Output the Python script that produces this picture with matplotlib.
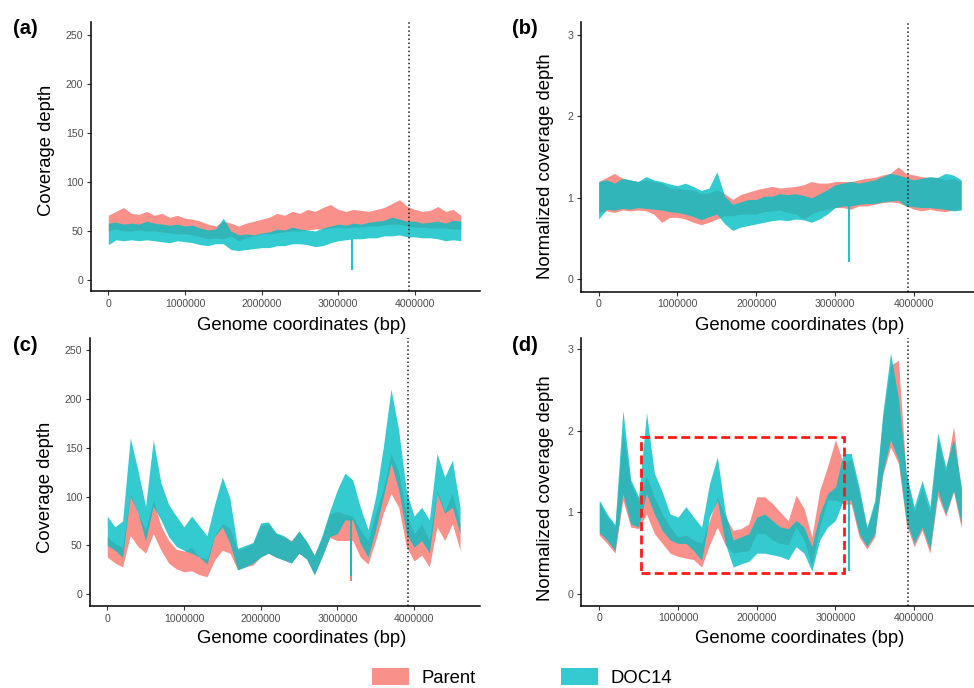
import numpy as np
import matplotlib

matplotlib.use("Agg")
import matplotlib.pyplot as plt
from matplotlib.patches import Patch, Rectangle

plt.rcParams["font.family"] = ["Liberation Sans", "DejaVu Sans"]

# 100 kb windows along the genome (window start, bp)
window_start = np.arange(47) * 100000
ori_pos = 3925000          # dotted reference line
dip_pos = 3175000          # single-window drop

PARENT = "#F8766D"
DOC14 = "#00BFC4"

# ---- (a) raw coverage, low/high envelope per window ----
a_parent_lo = [50, 52, 50, 50, 51, 50, 50, 49, 48, 47, 47, 46, 44, 42, 43, 42, 45, 40, 43, 45, 47, 47, 48, 49,
               50, 50, 51, 52, 52, 53, 54, 53, 54, 54, 55, 55, 56, 57, 57, 55, 54, 54, 53, 53, 53, 52, 52]
a_parent_hi = [66, 70, 74, 68, 67, 70, 66, 68, 64, 66, 63, 62, 60, 57, 55, 60, 58, 55, 58, 60, 62, 64, 68, 66,
               70, 68, 72, 70, 74, 77, 72, 70, 72, 71, 70, 72, 74, 78, 82, 75, 72, 70, 71, 75, 70, 72, 66]
a_doc_lo = [36, 41, 40, 41, 40, 41, 40, 39, 38, 40, 39, 38, 36, 35, 37, 37, 31, 30, 31, 32, 33, 33, 35, 35,
            37, 37, 36, 34, 35, 38, 40, 41, 42, 42, 43, 43, 45, 45, 46, 44, 44, 43, 43, 42, 40, 41, 40]
a_doc_hi = [58, 59, 57, 58, 57, 60, 58, 57, 56, 57, 55, 56, 53, 51, 52, 63, 50, 46, 47, 46, 48, 49, 52, 51,
            54, 52, 51, 50, 53, 55, 57, 56, 58, 57, 59, 60, 61, 64, 62, 60, 60, 58, 59, 60, 58, 61, 60]

# ---- (b) normalized coverage ----
b_parent_lo = [0.82, 0.84, 0.82, 0.85, 0.84, 0.85, 0.84, 0.80, 0.70, 0.76, 0.76, 0.74, 0.70, 0.67, 0.70, 0.74,
               0.78, 0.78, 0.80, 0.80, 0.80, 0.83, 0.84, 0.85, 0.82, 0.80, 0.74, 0.80, 0.84, 0.86, 0.88, 0.88,
               0.86, 0.90, 0.90, 0.92, 0.94, 0.95, 0.94, 0.90, 0.86, 0.84, 0.86, 0.84, 0.83, 0.85, 0.86]
b_parent_hi = [1.20, 1.25, 1.30, 1.24, 1.22, 1.20, 1.22, 1.20, 1.18, 1.12, 1.12, 1.10, 1.10, 1.05, 1.06, 1.10,
               1.05, 0.98, 1.04, 1.07, 1.10, 1.12, 1.14, 1.12, 1.13, 1.14, 1.16, 1.20, 1.18, 1.18, 1.20, 1.20,
               1.20, 1.22, 1.24, 1.25, 1.28, 1.30, 1.38, 1.30, 1.28, 1.26, 1.25, 1.25, 1.22, 1.24, 1.20]
b_doc_lo = [0.74, 0.86, 0.85, 0.87, 0.86, 0.88, 0.87, 0.86, 0.85, 0.83, 0.82, 0.80, 0.77, 0.73, 0.77, 0.80,
            0.68, 0.60, 0.64, 0.66, 0.68, 0.70, 0.72, 0.73, 0.72, 0.74, 0.73, 0.70, 0.74, 0.80, 0.88, 0.90,
            0.90, 0.92, 0.93, 0.93, 0.95, 0.96, 0.97, 0.90, 0.89, 0.88, 0.88, 0.87, 0.86, 0.84, 0.85]
b_doc_hi = [1.20, 1.22, 1.18, 1.24, 1.22, 1.20, 1.26, 1.22, 1.20, 1.17, 1.15, 1.18, 1.14, 1.09, 1.12, 1.32,
            1.02, 0.92, 0.95, 0.98, 0.98, 1.02, 1.02, 1.05, 1.04, 1.05, 1.03, 1.00, 1.05, 1.10, 1.16, 1.18,
            1.20, 1.18, 1.20, 1.22, 1.26, 1.30, 1.28, 1.25, 1.22, 1.24, 1.26, 1.25, 1.30, 1.28, 1.22]

# ---- (c) raw coverage ----
c_parent_lo = [38, 32, 28, 60, 49, 42, 62, 45, 32, 26, 23, 24, 20, 18, 35, 45, 42, 25, 28, 30, 38, 42, 38, 35,
               32, 42, 36, 20, 38, 58, 55, 55, 55, 38, 31, 55, 83, 103, 89, 49, 34, 40, 28, 69, 55, 72, 45]
c_parent_hi = [59, 52, 48, 103, 83, 66, 96, 70, 55, 46, 44, 48, 38, 36, 60, 72, 68, 45, 48, 52, 70, 72, 62, 59,
               55, 64, 54, 40, 58, 82, 85, 82, 80, 66, 55, 83, 108, 144, 125, 83, 62, 72, 55, 106, 85, 103, 72]
c_doc_lo = [50, 45, 38, 100, 83, 55, 90, 76, 59, 49, 45, 42, 38, 31, 59, 69, 52, 25, 28, 32, 38, 42, 38, 35,
            32, 42, 36, 20, 38, 59, 62, 76, 76, 52, 38, 66, 100, 134, 107, 62, 48, 55, 42, 103, 83, 89, 62]
c_doc_hi = [80, 69, 75, 160, 127, 90, 158, 114, 92, 80, 69, 80, 70, 60, 92, 120, 98, 47, 50, 53, 73, 74, 63, 60,
            54, 65, 54, 40, 60, 85, 107, 124, 117, 89, 66, 100, 151, 210, 168, 106, 80, 89, 76, 144, 120, 137, 89]

# ---- (d) normalized coverage ----
d_parent_lo = [0.72, 0.62, 0.50, 1.15, 0.82, 0.80, 0.98, 0.74, 0.62, 0.50, 0.46, 0.44, 0.42, 0.33, 0.60, 0.82,
               0.60, 0.50, 0.52, 0.53, 0.74, 0.74, 0.66, 0.62, 0.60, 0.82, 0.66, 0.35, 0.82, 1.15, 1.15, 1.10,
               1.10, 0.70, 0.55, 0.70, 1.45, 1.80, 1.60, 0.85, 0.58, 0.78, 0.50, 1.20, 0.95, 1.25, 0.80]
d_parent_hi = [1.12, 0.95, 0.82, 2.00, 1.35, 1.15, 1.45, 1.19, 0.98, 0.82, 0.70, 0.72, 0.66, 0.62, 0.90, 1.19,
               0.95, 0.78, 0.80, 0.86, 1.19, 1.19, 1.11, 1.00, 0.90, 1.21, 1.05, 0.70, 1.27, 1.56, 1.89, 1.60,
               1.65, 1.25, 0.80, 1.10, 2.15, 2.80, 2.86, 1.45, 1.00, 1.30, 1.00, 1.90, 1.50, 2.05, 1.25]
d_doc_lo = [0.75, 0.66, 0.53, 1.23, 0.86, 0.82, 1.23, 0.98, 0.78, 0.66, 0.62, 0.62, 0.53, 0.41, 0.94, 1.15,
            0.62, 0.33, 0.37, 0.40, 0.50, 0.50, 0.48, 0.46, 0.42, 0.58, 0.50, 0.28, 0.66, 0.82, 0.90, 1.15,
            1.15, 0.74, 0.58, 0.74, 1.48, 1.89, 1.64, 0.90, 0.62, 0.82, 0.55, 1.27, 0.98, 1.27, 0.86]
d_doc_hi = [1.15, 0.98, 0.85, 2.25, 1.40, 1.19, 2.22, 1.48, 1.25, 0.98, 0.94, 1.07, 0.94, 0.82, 1.35, 1.68,
            1.00, 0.66, 0.70, 0.74, 0.94, 0.98, 0.90, 0.82, 0.80, 0.90, 0.82, 0.58, 0.98, 1.23, 1.31, 1.72,
            1.72, 1.31, 0.82, 1.15, 2.20, 2.95, 2.40, 1.48, 1.07, 1.39, 1.07, 1.97, 1.56, 1.89, 1.31]

# minimum of the narrow drop near 3.17 Mb (None = no visible drop)
dip_parent = [None, None, 15, None]
dip_doc = [11, 0.22, 20, 0.29]

# boxed region in (d): start, end (bp), low, high
box_d = (530000, 3107000, 0.257, 1.92)


def draw_series(ax, lo, hi, color):
    ax.fill_between(window_start, lo, hi, color=color, alpha=0.8, lw=0)


def style(ax, ylabel, yticks, xlim, ylim, xlab_x, ylab_xy, xlab_y):
    ax.set_xlim(*xlim)
    ax.set_ylim(*ylim)
    ax.set_xticks([0, 1000000, 2000000, 3000000, 4000000])
    ax.set_xticklabels(["0", "1000000", "2000000", "3000000", "4000000"])
    ax.set_yticks(yticks)
    for s in ("top", "right"):
        ax.spines[s].set_visible(False)
    for s in ("left", "bottom"):
        ax.spines[s].set_linewidth(1.1)
    ax.tick_params(length=3, width=0.8, color="#333333", labelcolor="#4D4D4D",
                   labelsize=7.6, pad=2.5)
    ax.set_xlabel("Genome coordinates (bp)", fontsize=13.3)
    ax.xaxis.set_label_coords(xlab_x, xlab_y)
    ax.set_ylabel(ylabel, fontsize=13.3)
    ax.yaxis.set_label_coords(*ylab_xy)
    ax.axvline(ori_pos, color="#222222", lw=1.1, ls=":")


fig = plt.figure(figsize=(9.74, 6.88), dpi=100)

panels = [
    ("(a)", [0.0934, 0.577, 0.3994, 0.391], a_parent_lo, a_parent_hi, a_doc_lo, a_doc_hi,
     "Coverage depth", [0, 50, 100, 150, 200, 250], (-226000, 4850000), (-11.3, 263.3),
     0.541, (-0.092, 0.524), -0.095),
    ("(b)", [0.5962, 0.576, 0.4038, 0.392], b_parent_lo, b_parent_hi, b_doc_lo, b_doc_hi,
     "Normalized coverage depth", [0, 1, 2, 3], (-228000, 4763000), (-0.152, 3.157),
     0.558, (-0.068, 0.464), -0.095),
    ("(c)", [0.0924, 0.1192, 0.4004, 0.389], c_parent_lo, c_parent_hi, c_doc_lo, c_doc_hi,
     "Coverage depth", [0, 50, 100, 150, 200, 250], (-225000, 4860000), (-12.0, 261.8),
     0.542, (-0.092, 0.443), -0.09),
    ("(d)", [0.5965, 0.1196, 0.4035, 0.3887], d_parent_lo, d_parent_hi, d_doc_lo, d_doc_hi,
     "Normalized coverage depth", [0, 1, 2, 3], (-232000, 4760000), (-0.143, 3.13),
     0.557, (-0.068, 0.44), -0.09),
]

k_dip = int(dip_pos // 100000)
for i, (tag, rect, plo, phi, dlo, dhi, ylab, yt, xl, yl, lx, lxy, ly) in enumerate(panels):
    ax = fig.add_axes(rect)
    draw_series(ax, plo, phi, PARENT)
    if dip_parent[i] is not None:
        ax.plot([dip_pos, dip_pos], [dip_parent[i], plo[k_dip]], color=PARENT, lw=1.4)
    draw_series(ax, dlo, dhi, DOC14)
    ax.plot([dip_pos, dip_pos], [dip_doc[i], dlo[k_dip]], color=DOC14, lw=1.4, alpha=0.9)
    style(ax, ylab, yt, xl, yl, lx, lxy, ly)
    if tag == "(d)":
        x0, x1, y0, y1 = box_d
        ax.add_patch(Rectangle((x0, y0), x1 - x0, y1 - y0, fill=False, ec="#FF1A1A",
                               lw=2.0, ls=(0, (3.2, 1.6))))
    fx = 0.013 if tag in ("(a)", "(c)") else 0.526
    fy = rect[1] + rect[3] + 0.004
    fig.text(fx, fy, tag, fontsize=14.5, fontweight="bold", va="top")

handles = [Patch(facecolor=PARENT, alpha=0.8, lw=0, label="Parent"),
           Patch(facecolor=DOC14, alpha=0.8, lw=0, label="DOC14")]
fig.legend(handles=handles, loc="center", bbox_to_anchor=(0.536, 0.0155), ncol=2,
           frameon=False, fontsize=13.3, handlelength=2.0, handleheight=1.0,
           handletextpad=0.7, columnspacing=4.6, borderpad=0.2)

fig.savefig("out.png", dpi=100)
